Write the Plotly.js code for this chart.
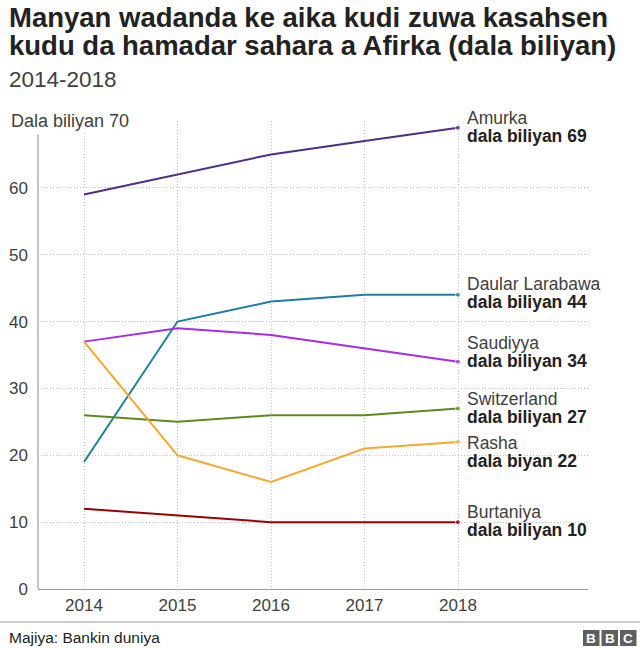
<!DOCTYPE html>
<html>
<head>
<meta charset="utf-8">
<script src="https://cdn.plot.ly/plotly-3.0.1.min.js"></script>
<style>
  html, body { margin: 0; padding: 0; background: #fff; }
  #chart { width: 640px; height: 648px; }
</style>
</head>
<body>
<div id="chart"></div>
<script>
// Remittances to sub-Saharan Africa by sending country, 2014-2018 (US$ billions)
const years = [2014, 2015, 2016, 2017, 2018];

const countries = ["Amurka", "Daular Larabawa", "Saudiyya", "Switzerland", "Rasha", "Burtaniya"];
const amurka = [59, 62, 65, 67, 69];
const daularLarabawa = [19, 40, 43, 44, 44];
const saudiyya = [37, 39, 38, 36, 34];
const switzerland = [26, 25, 26, 26, 27];
const rasha = [37, 20, 16, 21, 22];
const burtaniya = [12, 11, 10, 10, 10];
const seriesValues = [amurka, daularLarabawa, saudiyya, switzerland, rasha, burtaniya];

// Unit wording printed under each country name
const valueUnits = ["dala biliyan", "dala biliyan", "dala biliyan", "dala biliyan", "dala biyan", "dala biliyan"];

const yTickVals = [0, 10, 20, 30, 40, 50, 60];
const yTickText = ["\u20070", "10", "20", "30", "40", "50", "60"];
const topTickLabel = "Dala biliyan 70";

const titleLines = ["Manyan wadanda ke aika kudi zuwa kasahsen", "kudu da hamadar sahara a Afirka (dala biliyan)"];
const subtitleText = "2014-2018";
const sourceText = "Majiya: Bankin duniya";

// ---- styling ----
const colors = ["#4f2f82", "#1b7f9f", "#a62ce6", "#5b8c1b", "#f5a833", "#990000"];
// vertical nudge (px, positive = up) for each end label block to avoid overlaps
const labelNudge = [1, 2, 10, 0, -10, 1];

const FONT = "'Liberation Sans', Arial, Helvetica, sans-serif";
const GRID = "#c2c2c2";

// plot-area geometry in pixels
const W = 640, H = 648;
const L = 38, R = 588, T = 121, B = 589;
const px2x = px => (px - L) / (R - L);
const px2y = py => (B - py) / (B - T);

const traces = seriesValues.map((vals, i) => ({
  type: "scatter",
  mode: "lines+markers",
  x: years,
  y: vals,
  name: countries[i],
  line: { color: colors[i], width: 2 },
  marker: { color: colors[i], size: vals.map((_, j) => j === vals.length - 1 ? 5 : 0) },
  cliponaxis: false,
  hoverinfo: "skip",
  showlegend: false
}));

const annotations = [];

// end-of-line labels: country name, then bold value
seriesValues.forEach((vals, i) => {
  const last = vals[vals.length - 1];
  const xLast = years[years.length - 1];
  annotations.push({
    x: xLast, y: last, xref: "x", yref: "y",
    text: countries[i],
    showarrow: false, xanchor: "left", yanchor: "middle",
    xshift: 7, yshift: 9 + labelNudge[i],
    font: { family: FONT, size: 17.5, color: "#404040" }
  });
  annotations.push({
    x: xLast, y: last, xref: "x", yref: "y",
    text: "<b>" + valueUnits[i] + " " + last + "</b>",
    showarrow: false, xanchor: "left", yanchor: "middle",
    xshift: 7, yshift: -9 + labelNudge[i],
    font: { family: FONT, size: 17.5, color: "#222222" }
  });
});

// top y-axis label, sitting over the 70 gridline
annotations.push({
  x: px2x(9), y: 70, xref: "paper", yref: "y",
  text: topTickLabel, showarrow: false,
  xanchor: "left", yanchor: "middle",
  bgcolor: "#ffffff", borderpad: 1,
  font: { family: FONT, size: 18, color: "#404040" }
});

// title, one annotation per line
const titleCentres = [18, 46];
titleLines.forEach((line, k) => {
  annotations.push({
    x: px2x(7), y: px2y(titleCentres[k]), xref: "paper", yref: "paper",
    text: "<b>" + line + "</b>", showarrow: false,
    xanchor: "left", yanchor: "middle",
    font: { family: FONT, size: 27.5, color: "#222222" }
  });
});

// subtitle
annotations.push({
  x: px2x(7), y: px2y(79), xref: "paper", yref: "paper",
  text: subtitleText, showarrow: false,
  xanchor: "left", yanchor: "middle",
  font: { family: FONT, size: 22.5, color: "#404040" }
});

// source note
annotations.push({
  x: px2x(7), y: px2y(637), xref: "paper", yref: "paper",
  text: sourceText, showarrow: false,
  xanchor: "left", yanchor: "middle",
  font: { family: FONT, size: 15.5, color: "#222222" }
});

const shapes = [
  // y axis line
  { type: "line", xref: "paper", yref: "y", x0: 0, x1: 0, y0: 0, y1: 68,
    line: { color: "#c4c4c4", width: 2 }, layer: "above" },
  // footer rule
  { type: "line", xref: "paper", yref: "paper", x0: px2x(0), x1: px2x(W), y0: px2y(622), y1: px2y(622),
    line: { color: "#999999", width: 1 } }
];

// BBC blocks
["B", "B", "C"].forEach((ch, k) => {
  const x0 = 583 + k * 18.5, x1 = x0 + 16.5;
  shapes.push({ type: "rect", xref: "paper", yref: "paper",
    x0: px2x(x0), x1: px2x(x1), y0: px2y(646), y1: px2y(630),
    fillcolor: "#5f5f5f", line: { width: 0 } });
  annotations.push({ x: px2x((x0 + x1) / 2), y: px2y(638.5), xref: "paper", yref: "paper",
    text: "<b>" + ch + "</b>", showarrow: false, xanchor: "center", yanchor: "middle",
    font: { family: FONT, size: 13.5, color: "#ffffff" } });
});

const layout = {
  width: W, height: H,
  margin: { l: L, r: W - R, t: T, b: H - B, pad: 0 },
  paper_bgcolor: "#ffffff",
  plot_bgcolor: "#ffffff",
  xaxis: {
    range: [2013.508, 2019.39],
    tickvals: years,
    ticktext: years.map(String),
    showgrid: true, gridcolor: GRID, griddash: "1px,2px", gridwidth: 1,
    showline: true, linecolor: "#9a9a9a", linewidth: 1,
    zeroline: false, ticks: "",
    ticklabelstandoff: 1,
    tickfont: { family: FONT, size: 17, color: "#404040" },
    fixedrange: true
  },
  yaxis: {
    range: [0, 70],
    tickvals: yTickVals.concat([70]),
    ticktext: yTickText.concat([""]),
    showgrid: true, gridcolor: GRID, griddash: "1px,2px", gridwidth: 1,
    showline: false, zeroline: false, ticks: "",
    ticklabelstandoff: 9,
    tickfont: { family: FONT, size: 17, color: "#404040" },
    fixedrange: true
  },
  shapes: shapes,
  annotations: annotations,
  showlegend: false
};

Plotly.newPlot("chart", traces, layout, { displayModeBar: false, staticPlot: true });
</script>
</body>
</html>
